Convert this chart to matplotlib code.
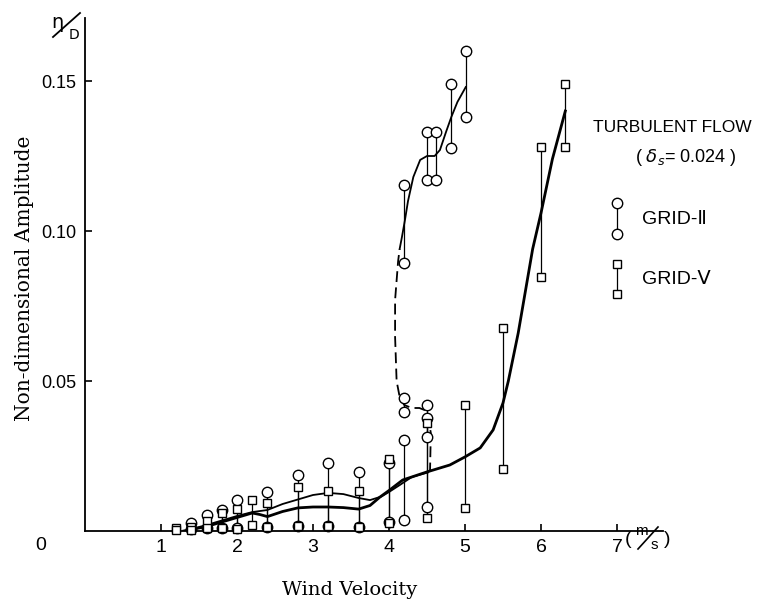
import matplotlib
matplotlib.use("Agg")
import matplotlib.pyplot as plt
from matplotlib.lines import Line2D

# ---------------- data ----------------
# GRID-II (circles): velocity, upper value, lower value
g2_v  = [1.4, 1.6, 1.8, 2.0, 2.4, 2.8, 3.2, 3.6, 4.0, 4.2, 4.2, 4.2, 4.5, 4.5, 4.5, 4.62, 4.82, 5.01]
g2_hi = [0.0027, 0.0053, 0.0070, 0.0103, 0.0130, 0.0187, 0.0227, 0.0197, 0.0227, 0.0303,
         0.0443, 0.1153, 0.0420, 0.0377, 0.1330, 0.1330, 0.1490, 0.1600]
g2_lo = [0.0007, 0.0010, 0.0010, 0.0010, 0.0013, 0.0017, 0.0017, 0.0013, 0.0030, 0.0037,
         0.0397, 0.0893, 0.0080, 0.0313, 0.1170, 0.1170, 0.1277, 0.1380]

# GRID-V (squares)
gv_v  = [1.2, 1.4, 1.6, 1.8, 2.0, 2.2, 2.4, 2.8, 3.2, 3.6, 4.0, 4.5, 5.0, 5.5, 6.0, 6.32]
gv_hi = [0.0010, 0.0012, 0.0035, 0.0060, 0.0073, 0.0103, 0.0093, 0.0147, 0.0133, 0.0133,
         0.0240, 0.0360, 0.0420, 0.0677, 0.1280, 0.1490]
gv_lo = [0.0005, 0.0005, 0.0010, 0.0010, 0.0007, 0.0020, 0.0013, 0.0017, 0.0017, 0.0013,
         0.0027, 0.0043, 0.0077, 0.0207, 0.0847, 0.1280]

# GRID-V fitted curve (thick)
cv_x = [1.3, 1.6, 1.8, 2.0, 2.2, 2.3, 2.4, 2.6, 2.8, 3.0, 3.2, 3.4, 3.6, 3.75, 3.88, 4.0,
        4.18, 4.5, 4.8, 5.0, 5.2, 5.37, 5.5, 5.57, 5.7, 5.89, 6.0, 6.15, 6.32]
cv_y = [0.0, 0.0015, 0.003, 0.0045, 0.006, 0.0055, 0.0048, 0.0065, 0.0077, 0.008, 0.008,
        0.0078, 0.0073, 0.0085, 0.0113, 0.0135, 0.017, 0.0197, 0.022, 0.0247, 0.0277,
        0.0337, 0.0427, 0.050, 0.066, 0.094, 0.106, 0.124, 0.140]

# GRID-II fitted curve: lower solid part, dashed jump, upper solid part
c2a_x = [1.3, 1.6, 1.8, 2.0, 2.2, 2.4, 2.6, 2.8, 3.0, 3.2, 3.4, 3.6, 3.75, 3.9, 4.0,
         4.14, 4.3, 4.51]
c2a_y = [0.0, 0.002, 0.0035, 0.005, 0.0063, 0.007, 0.009, 0.0105, 0.012, 0.0127, 0.0123,
         0.011, 0.0103, 0.0115, 0.013, 0.0153, 0.018, 0.0195]
c2b_x = [4.51, 4.54, 4.55, 4.5, 4.4, 4.3, 4.2, 4.14, 4.10, 4.08, 4.08, 4.12, 4.14]
c2b_y = [0.0195, 0.0203, 0.0327, 0.040, 0.041, 0.041, 0.042, 0.0447, 0.050, 0.0647,
         0.077, 0.090, 0.094]
c2c_x = [4.14, 4.17, 4.21, 4.25, 4.32, 4.41, 4.5, 4.6, 4.67, 4.75, 4.82, 4.9, 5.01]
c2c_y = [0.094, 0.098, 0.1037, 0.110, 0.118, 0.1237, 0.125, 0.125, 0.127, 0.133, 0.138,
         0.143, 0.148]

xticks = [1, 2, 3, 4, 5, 6, 7]
yticks = [0.05, 0.10, 0.15]
ytick_labels = ["0.05", "0.10", "0.15"]

# ---------------- figure ----------------
W, H = 779, 603
fig = plt.figure(figsize=(W / 100, H / 100), dpi=100)
fig.patch.set_facecolor("white")

def fx(px):
    return px / W

def fy(py):
    return 1 - py / H

ax = fig.add_axes([fx(85), fy(531), (663 - 85) / W, (531 - 18) / H])
ax.set_xlim(0, 7.605)
ax.set_ylim(0, 0.171)
for s in ("top", "right"):
    ax.spines[s].set_visible(False)
for s in ("left", "bottom"):
    ax.spines[s].set_linewidth(1.3)

tick_font = "Liberation Sans"
ax.set_xticks(xticks)
ax.set_xticklabels([str(t) for t in xticks], fontsize=14, family=tick_font)
ax.set_yticks(yticks)
ax.set_yticklabels(ytick_labels, fontsize=13, family=tick_font)
ax.tick_params(direction="in", length=5, width=1.2, pad=6)

# vertical range lines
for v, hi, lo in zip(g2_v, g2_hi, g2_lo):
    ax.plot([v, v], [lo, hi], color="black", lw=0.9, zorder=2)
for v, hi, lo in zip(gv_v, gv_hi, gv_lo):
    ax.plot([v, v], [lo, hi], color="black", lw=0.9, zorder=2)

# curves
ax.plot(cv_x, cv_y, color="black", lw=2.0, zorder=3, solid_joinstyle="round")
ax.plot(c2a_x, c2a_y, color="black", lw=1.3, zorder=3)
ax.plot(c2b_x, c2b_y, color="black", lw=1.3, ls=(0, (6, 3)), zorder=3)
ax.plot(c2c_x, c2c_y, color="black", lw=1.3, zorder=3)

# markers
mk = dict(color="black", mfc="white", mec="black", mew=1.0, ls="none", zorder=4,
          clip_on=False)
ax.plot(g2_v + g2_v, g2_hi + g2_lo, marker="o", ms=7.5, **mk)
ax.plot(gv_v + gv_v, gv_hi + gv_lo, marker="s", ms=6.2, **mk)

# origin label
fig.text(fx(41), fy(545), "0", fontsize=14, family=tick_font, ha="center", va="center")

# axis titles
fig.text(fx(25), fy(278), "Non-dimensional Amplitude", rotation=90, fontsize=14.5,
         family="DejaVu Serif", ha="center", va="center")
fig.text(fx(350), fy(590), "Wind Velocity", fontsize=14, family="DejaVu Serif",
         ha="center", va="center")

# eta / D
fig.text(fx(57), fy(22), "η", fontsize=14, family="DejaVu Sans", ha="center", va="center")
fig.text(fx(74), fy(35), "D", fontsize=10, family="DejaVu Sans", ha="center", va="center")
fig.add_artist(Line2D([fx(53), fx(80)], [fy(37), fy(13)], color="black", lw=1.3,
                      transform=fig.transFigure))

# (m/s)
fig.text(fx(628), fy(540), "(", fontsize=14, family=tick_font, ha="center", va="center")
fig.text(fx(641), fy(531), "m", fontsize=11, family=tick_font, ha="center", va="center")
fig.text(fx(654), fy(545), "s", fontsize=11, family=tick_font, ha="center", va="center")
fig.text(fx(667), fy(540), ")", fontsize=14, family=tick_font, ha="center", va="center")
fig.add_artist(Line2D([fx(638), fx(658)], [fy(549), fy(527)], color="black", lw=1.2,
                      transform=fig.transFigure))

# legend / annotation block
fig.text(fx(672), fy(128), "TURBULENT FLOW", fontsize=12.5, family=tick_font,
         ha="center", va="center")
fig.text(fx(686), fy(158), r"( $\delta_{s}$= 0.024 )", fontsize=13, family=tick_font,
         ha="center", va="center")

lx = 617
fig.add_artist(Line2D([fx(lx), fx(lx)], [fy(203), fy(234)], color="black", lw=0.9,
                      transform=fig.transFigure))
fig.add_artist(Line2D([fx(lx), fx(lx)], [fy(203), fy(234)], marker="o", ms=7.5, mfc="white",
                      mec="black", mew=1.0, ls="none", transform=fig.transFigure))
fig.add_artist(Line2D([fx(lx), fx(lx)], [fy(264), fy(294)], color="black", lw=0.9,
                      transform=fig.transFigure))
fig.add_artist(Line2D([fx(lx), fx(lx)], [fy(264), fy(294)], marker="s", ms=6.2, mfc="white",
                      mec="black", mew=1.0, ls="none", transform=fig.transFigure))
fig.text(fx(642), fy(220), "GRID-Ⅱ", fontsize=14, family=[tick_font, "DejaVu Sans"],
         ha="left", va="center")
fig.text(fx(642), fy(280), "GRID-Ⅴ", fontsize=14, family=[tick_font, "DejaVu Sans"],
         ha="left", va="center")

fig.savefig("out.png", dpi=100, facecolor="white")
